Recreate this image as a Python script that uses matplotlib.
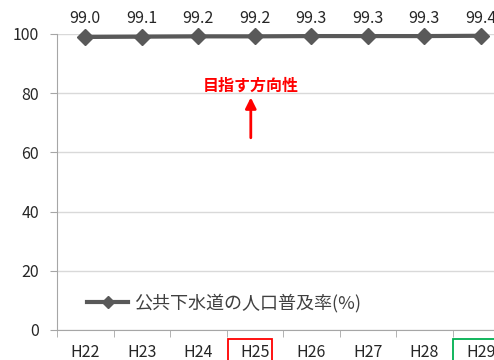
import matplotlib
matplotlib.use("Agg")
import matplotlib.pyplot as plt
from matplotlib.patches import Rectangle

plt.rcParams['font.family'] = ['Noto Sans CJK JP', 'DejaVu Sans']

years = ["H22", "H23", "H24", "H25", "H26", "H27", "H28", "H29"]
rates = [99.0, 99.1, 99.2, 99.2, 99.3, 99.3, 99.3, 99.4]
series_name = "公共下水道の人口普及率(%)"
y_ticks = [0, 20, 40, 60, 80, 100]
target_label = "目指す方向性"

fig = plt.figure(figsize=(4.94, 3.6), dpi=100)
ax = fig.add_axes([57/494, 30/360, 452/494, 296/360])

x = list(range(len(years)))
ax.plot(x, rates, color="#595959", lw=3, marker="D", ms=8,
        markeredgecolor="#595959", markerfacecolor="#595959",
        label=series_name, zorder=3, clip_on=False)

for xi, v in zip(x, rates):
    ax.text(xi, 102.5, f"{v:.1f}", ha="center", va="bottom", fontsize=11.5,
            color="#262626")

ax.set_xlim(-0.5, len(years) - 0.5)
ax.set_ylim(0, 100)
ax.set_yticks(y_ticks)
ax.set_xticks(x)
ax.set_xticklabels(years)
ax.set_xticks([i - 0.5 for i in range(len(years) + 1)], minor=True)
ax.tick_params(axis="x", which="major", length=0, pad=10, labelsize=11.5,
               labelcolor="#262626")
ax.tick_params(axis="x", which="minor", length=5, color="#A6A6A6")
ax.tick_params(axis="y", length=5, color="#A6A6A6", labelsize=11.5,
               labelcolor="#262626", pad=8)
ax.grid(axis="y", color="#D9D9D9", lw=1)
ax.set_axisbelow(True)
for s in ["top", "right"]:
    ax.spines[s].set_visible(False)
ax.spines["left"].set_color("#A6A6A6")
ax.spines["bottom"].set_color("#A6A6A6")

# direction annotation above H25
ax.annotate("", xy=(2.93, 79.5), xytext=(2.93, 64),
            arrowprops=dict(arrowstyle="-|>", color="red", lw=2,
                            mutation_scale=16))
ax.text(2.93, 82.5, target_label, ha="center", va="center", color="red",
        fontsize=11.5, fontweight="bold")

# highlight boxes around the H25 and H29 labels
ax.add_patch(Rectangle((2.52, -0.3), 0.78, 0.27, transform=ax.get_xaxis_transform(),
                       fill=False, edgecolor="red", lw=1.3, clip_on=False))
ax.add_patch(Rectangle((6.50, -0.3), 0.9, 0.27, transform=ax.get_xaxis_transform(),
                       fill=False, edgecolor="#00B050", lw=1.3, clip_on=False))

leg = ax.legend(loc="lower left", bbox_to_anchor=(0.03, 0.005), frameon=False,
                handlelength=2.3, handletextpad=0.3,
                prop={'family': ['Noto Sans CJK JP', 'DejaVu Sans'], 'size': 13})
for t in leg.get_texts():
    t.set_color("#404040")
for h in leg.legend_handles:
    h.set_markersize(6)

fig.savefig("out.png", dpi=100)
